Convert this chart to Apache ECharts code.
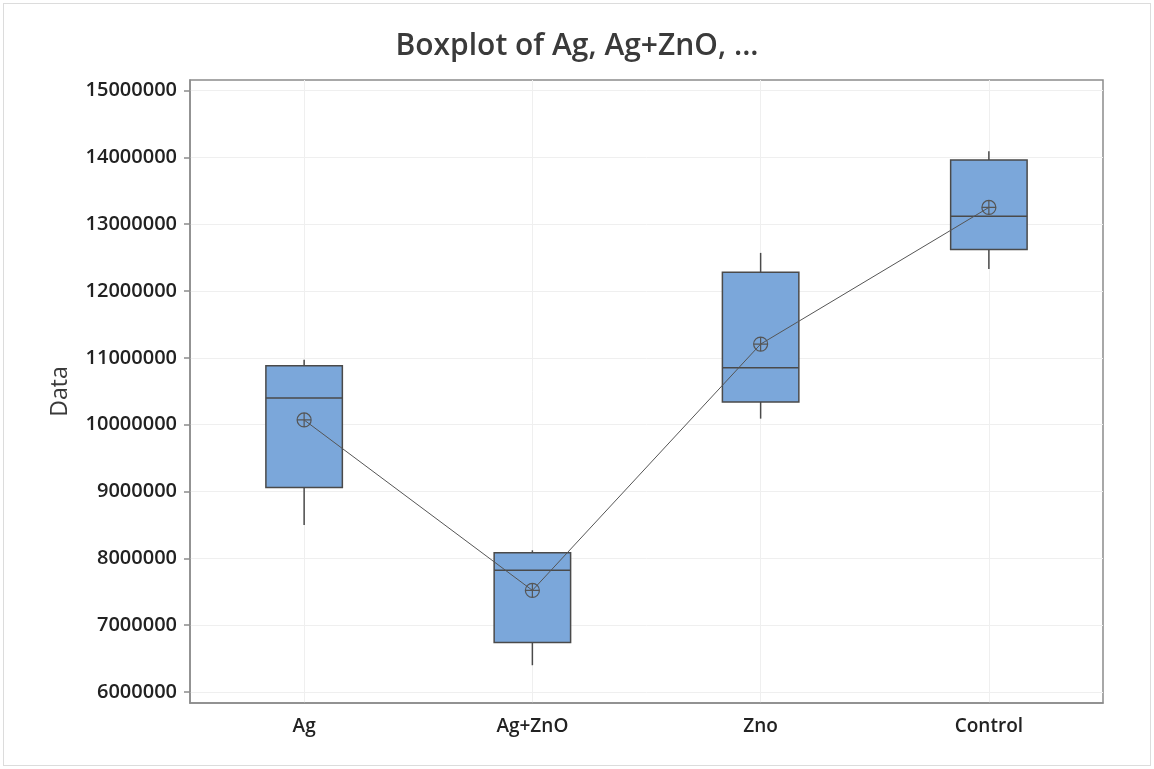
<!DOCTYPE html>
<html>
<head>
<meta charset="utf-8">
<script src="https://cdn.jsdelivr.net/npm/echarts@6/dist/echarts.min.js"></script>
<style>
html,body{margin:0;padding:0;background:#fff;}
#frame{position:absolute;left:3px;top:3px;width:1146px;height:761px;border:1px solid #dcdcdc;}
#chart{position:absolute;left:0;top:0;width:1154px;height:769px;}
</style>
</head>
<body>
<div id="frame"></div>
<div id="chart"></div>
<script>
const categories = ['Ag', 'Ag+ZnO', 'Zno', 'Control'];
// [whisker low, Q1, median, Q3, whisker high]
const boxValues = [
  [8500000, 9060000, 10400000, 10880000, 10970000],
  [6400000, 6740000, 7820000, 8085000, 8120000],
  [10090000, 10340000, 10850000, 12280000, 12570000],
  [12330000, 12620000, 13120000, 13960000, 14090000]
];
const meanValues = [10070000, 7520000, 11205000, 13250000];
const yTicks = [6000000, 7000000, 8000000, 9000000, 10000000, 11000000, 12000000, 13000000, 14000000, 15000000];

const chart = echarts.init(document.getElementById('chart'));
const FONT = '"Open Sans", "Noto Sans", sans-serif';
const meanSymbol = 'path://M0,-6A6,6,0,1,1,0,6A6,6,0,1,1,0,-6ZM-6,0L6,0M0,-6L0,6';

chart.setOption({
  animation: false,
  backgroundColor: 'transparent',
  title: {
    text: 'Boxplot of Ag, Ag+ZnO, ...',
    left: 'center',
    top: 26,
    textStyle: { fontFamily: FONT, fontSize: 30, fontWeight: 600, color: '#3a3a3a' }
  },
  grid: {
    left: 190, top: 80, right: 51, bottom: 66,
    show: true, borderColor: '#8c8c8c', borderWidth: 1.5, backgroundColor: 'transparent'
  },
  xAxis: {
    type: 'category',
    data: categories,
    boundaryGap: true,
    axisLine: { lineStyle: { color: '#8c8c8c', width: 1.5 } },
    axisTick: { alignWithLabel: true, length: 6, lineStyle: { color: '#8c8c8c', width: 1.5 } },
    axisLabel: { fontFamily: FONT, fontSize: 19, fontWeight: 600, color: '#222', margin: 14 },
    splitLine: { show: true, alignWithLabel: true, lineStyle: { color: '#efefef', width: 1 } }
  },
  yAxis: {
    type: 'value',
    min: 5835000,
    max: 15157000,
    name: 'Data',
    nameLocation: 'middle',
    nameGap: 118,
    nameTextStyle: { fontFamily: FONT, fontSize: 23, fontWeight: 500, color: '#3a3a3a' },
    axisLine: { show: true, lineStyle: { color: '#8c8c8c', width: 1.5 } },
    axisTick: { show: true, length: 6, customValues: yTicks, lineStyle: { color: '#8c8c8c', width: 1.5 } },
    axisLabel: {
      fontFamily: FONT, fontSize: 20, fontWeight: 600, color: '#222', margin: 13,
      customValues: yTicks,
      formatter: v => Math.round(v).toString()
    },
    splitLine: { show: true, lineStyle: { color: '#efefef', width: 1 } }
  },
  series: [
    {
      type: 'custom',
      data: boxValues.map((b, i) => [i].concat(b)),
      encode: { x: 0, y: [1, 2, 3, 4, 5] },
      z: 2,
      renderItem: function (params, api) {
        const i = api.value(0);
        const bw = api.size([1, 0])[0] * 0.335;
        const lo = api.coord([i, api.value(1)]);
        const q1 = api.coord([i, api.value(2)]);
        const md = api.coord([i, api.value(3)]);
        const q3 = api.coord([i, api.value(4)]);
        const hi = api.coord([i, api.value(5)]);
        const x = lo[0];
        const stroke = { stroke: '#4a4a4a', lineWidth: 1.5 };
        return {
          type: 'group',
          children: [
            { type: 'line', shape: { x1: x, y1: hi[1], x2: x, y2: q3[1] }, style: stroke },
            { type: 'line', shape: { x1: x, y1: q1[1], x2: x, y2: lo[1] }, style: stroke },
            { type: 'rect', shape: { x: x - bw / 2, y: q3[1], width: bw, height: q1[1] - q3[1] },
              style: { fill: '#7ba7da', stroke: '#4a4a4a', lineWidth: 1.5 } },
            { type: 'line', shape: { x1: x - bw / 2, y1: md[1], x2: x + bw / 2, y2: md[1] }, style: stroke }
          ]
        };
      }
    },
    {
      type: 'line',
      data: meanValues,
      z: 3,
      symbol: meanSymbol,
      symbolSize: 14,
      showAllSymbol: true,
      lineStyle: { color: '#555', width: 1 },
      itemStyle: { color: 'rgba(0,0,0,0)', borderColor: '#555', borderWidth: 1.2 }
    }
  ]
});
</script>
</body>
</html>
